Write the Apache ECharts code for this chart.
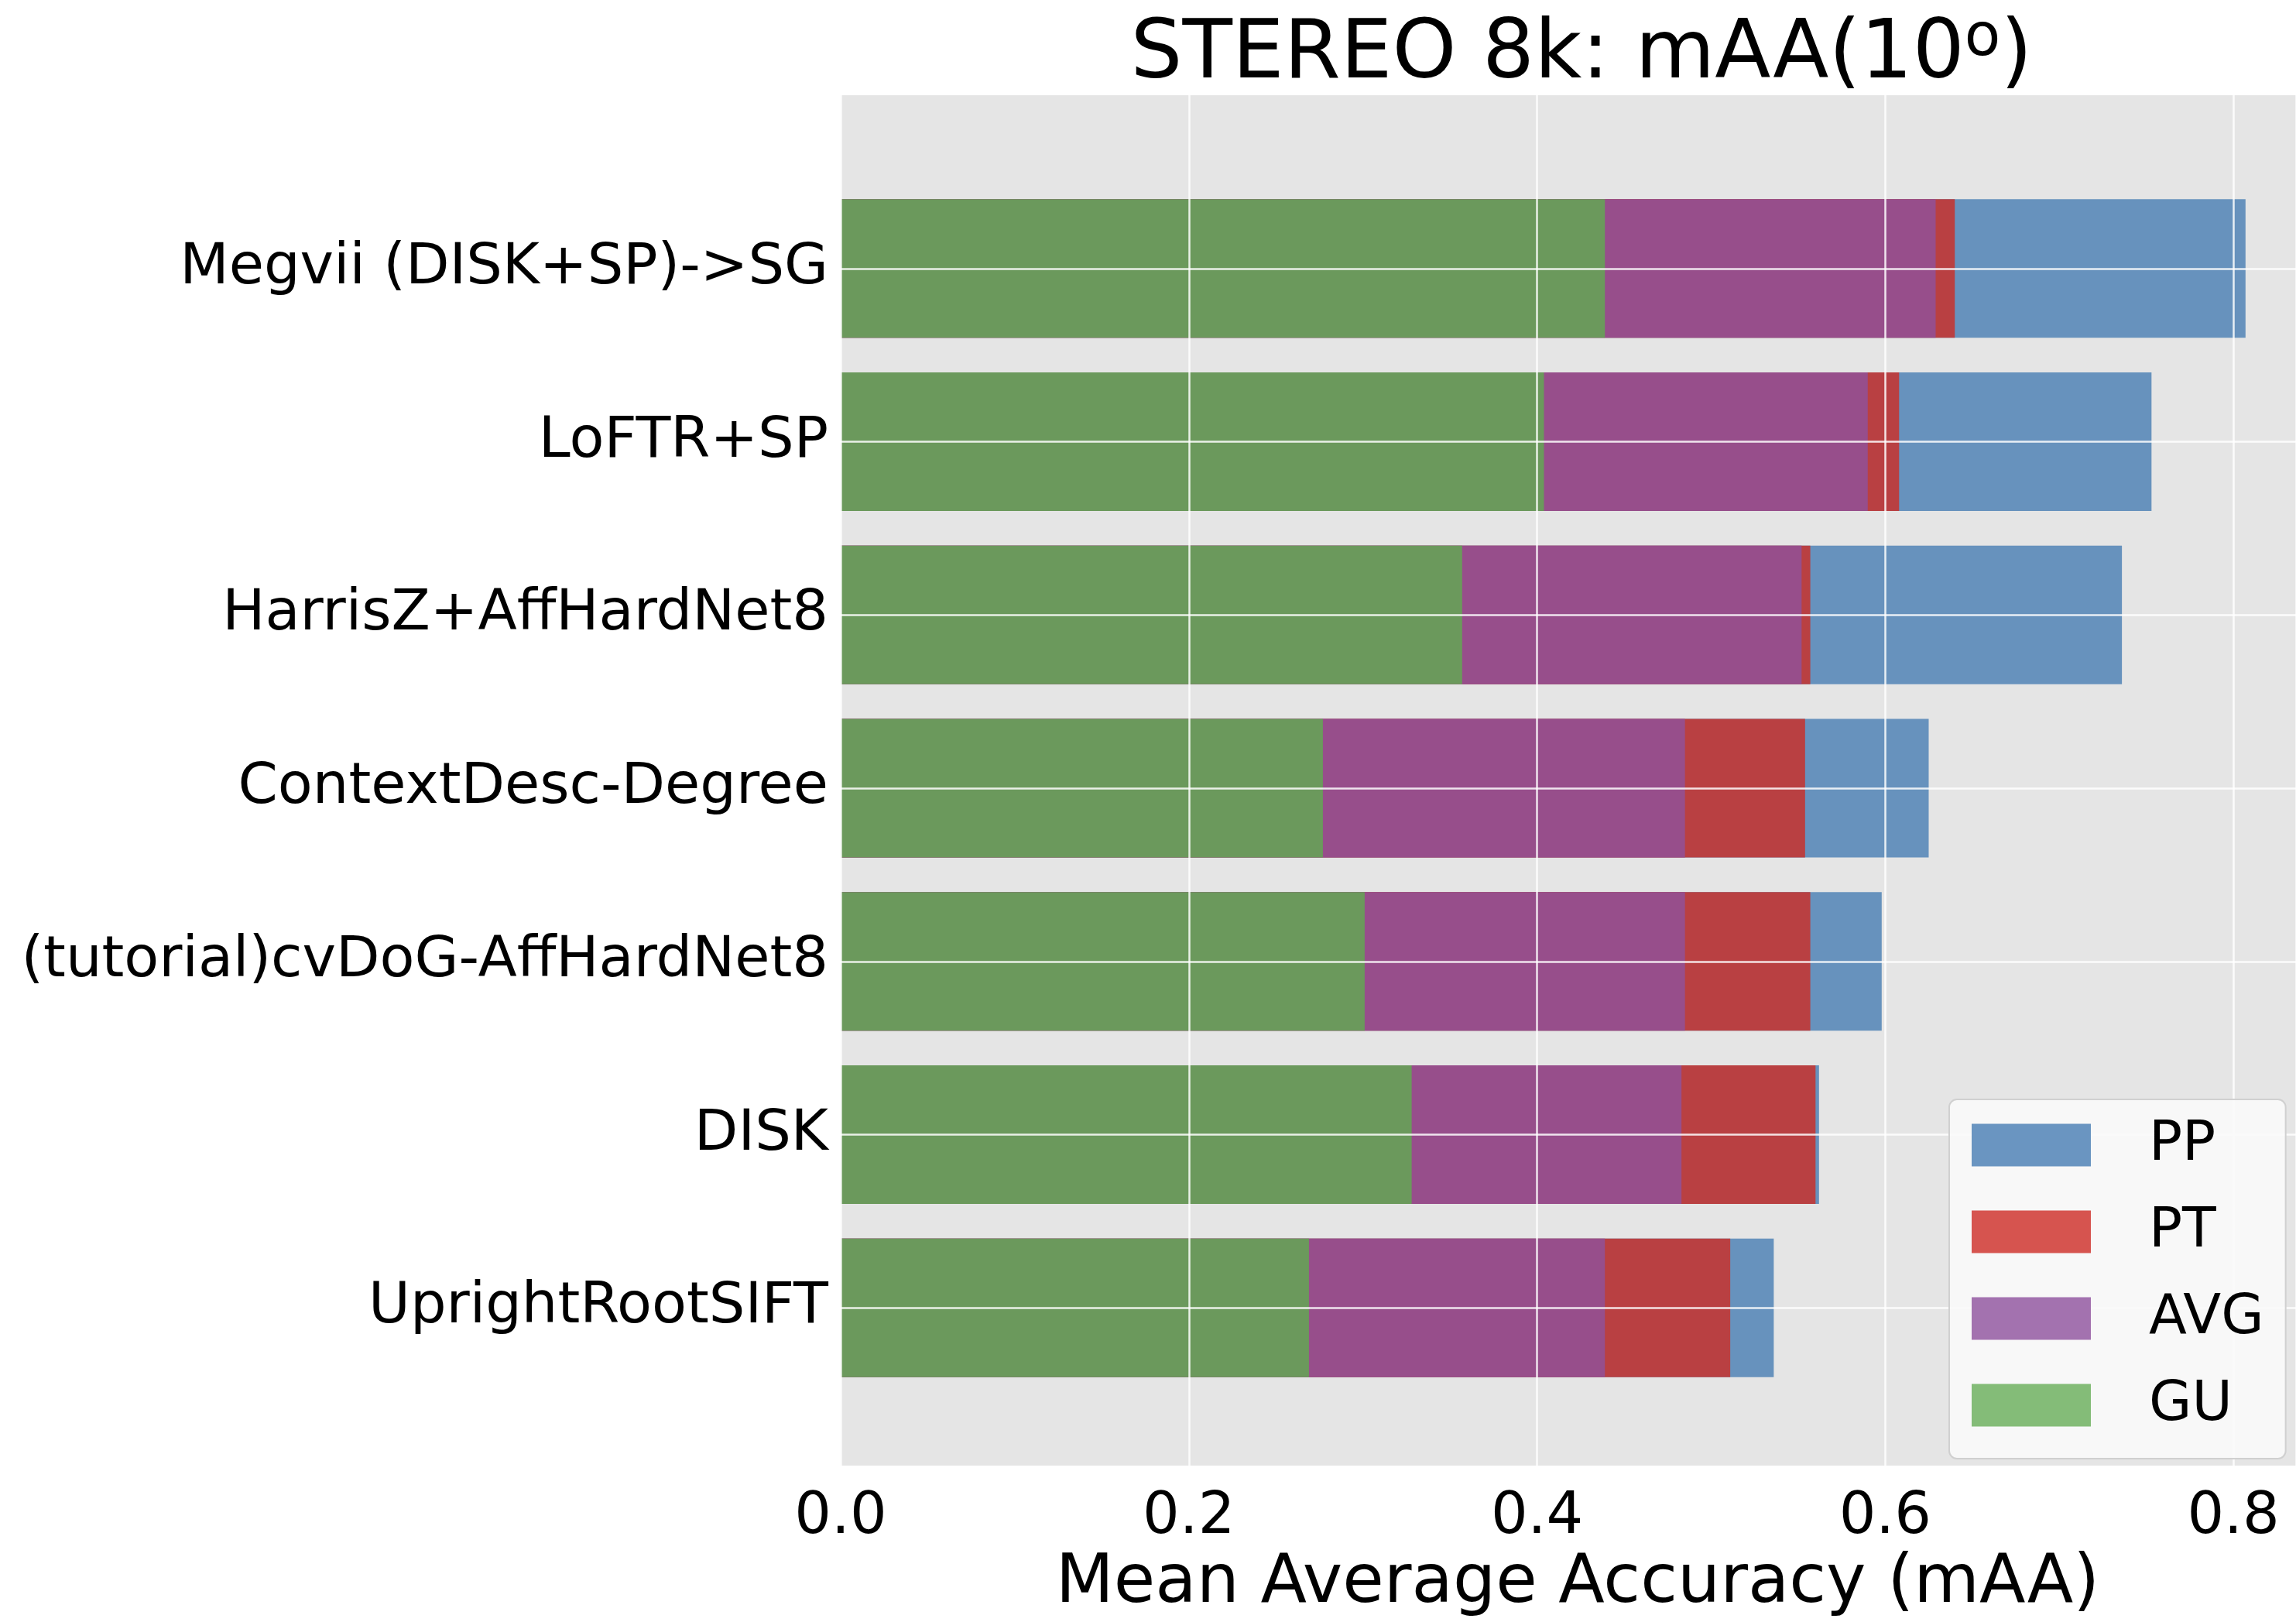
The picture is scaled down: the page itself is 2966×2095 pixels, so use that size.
<!DOCTYPE html>
<html>
<head>
<meta charset="utf-8">
<title>STEREO 8k: mAA(10°)</title>
<script src="https://cdn.jsdelivr.net/npm/echarts@6/dist/echarts.min.js"></script>
<style>
  html, body { margin: 0; padding: 0; background: #ffffff; }
  #chart { width: 2966px; height: 2095px; }
</style>
</head>
<body>
<div id="chart"></div>
<script>
// Methods, listed from top to bottom of the chart
const methods = [
  'Megvii (DISK+SP)->SG',
  'LoFTR+SP',
  'HarrisZ+AffHardNet8',
  'ContextDesc-Degree',
  '(tutorial)cvDoG-AffHardNet8',
  'DISK',
  'UprightRootSIFT'
];

// mAA(10°) per dataset split, same order as methods
const seriesNames = ['PP', 'PT', 'AVG', 'GU'];
const valuesPP  = [0.807, 0.753, 0.736, 0.625, 0.598, 0.562, 0.536];
const valuesPT  = [0.640, 0.608, 0.557, 0.554, 0.557, 0.560, 0.511];
const valuesAVG = [0.629, 0.590, 0.552, 0.485, 0.485, 0.483, 0.439];
const valuesGU  = [0.439, 0.404, 0.357, 0.277, 0.301, 0.328, 0.269];

const xTicks = [0, 0.2, 0.4, 0.6, 0.8];

const FONT = 'DejaVu Sans';
const barColors   = { PP: '#6792BD', PT: '#B94042', AVG: '#974E8B', GU: '#6B995C' };
const legendColors = { PP: '#6A95C1', PT: '#D6544F', AVG: '#A372AF', GU: '#84BC78' };

const X_MAX = 0.836;
const PLOT_LEFT = 1086;
const PLOT_TOP = 123;
const PLOT_H = 1790;          // y range -1 .. 7
const UNIT = PLOT_H / 8;      // one category step
const gridLine = { color: '#ffffff', width: 2.5, opacity: 0.85 };

const chart = echarts.init(document.getElementById('chart'), null, { renderer: 'canvas' });

const dataBySeries = { PP: valuesPP, PT: valuesPT, AVG: valuesAVG, GU: valuesGU };

const option = {
  backgroundColor: '#ffffff',
  animation: false,
  title: {
    text: '{t|STEREO 8k: mAA(10}{s|o}{t|)}',
    left: 2038,
    top: 8,
    textAlign: 'center',
    textStyle: {
      fontWeight: 'normal',
      rich: {
        t: { fontFamily: FONT, fontSize: 105.5, fontWeight: 'normal', color: '#000000', lineHeight: 120 },
        s: { fontFamily: FONT, fontSize: 76, fontWeight: 'normal', color: '#000000', verticalAlign: 'top', lineHeight: 66 }
      }
    }
  },
  legend: {
    orient: 'vertical',
    left: 2518,
    top: 1420,
    z: 20,
    data: seriesNames.map(n => ({ name: n, itemStyle: { color: legendColors[n] } })),
    icon: 'rect',
    itemWidth: 154,
    itemHeight: 55,
    itemGap: 40,
    padding: [23, 28, 33, 29],
    backgroundColor: 'rgba(250,250,250,0.92)',
    borderColor: '#D0D0D0',
    borderWidth: 2,
    borderRadius: 10,
    textStyle: {
      fontFamily: FONT,
      fontSize: 71.5,
      color: '#000000',
      padding: [0, 0, 0, 70]
    }
  },
  grid: [
    // plot panel: grey background, vertical grid lines, x ticks
    { left: PLOT_LEFT, right: 0, top: PLOT_TOP, height: PLOT_H, show: true,
      backgroundColor: '#E5E5E5', borderWidth: 0, containLabel: false },
    // bars: seven category bands between y = -0.5 and 6.5
    { left: PLOT_LEFT, right: 0, top: PLOT_TOP + UNIT * 0.5, height: UNIT * 7, containLabel: false },
    // horizontal grid lines through each category centre
    { left: PLOT_LEFT, right: 0, top: PLOT_TOP + UNIT, height: UNIT * 6, containLabel: false }
  ],
  xAxis: [
    {
      gridIndex: 0, type: 'value', min: 0, max: X_MAX, interval: 0.2, z: 10,
      name: 'Mean Average Accuracy (mAA)',
      nameLocation: 'middle',
      nameGap: 108,
      nameTextStyle: { fontFamily: FONT, fontSize: 87, color: '#000000', padding: [0, 0, 0, 24] },
      axisLine: { show: false },
      axisTick: { show: false },
      axisLabel: {
        fontFamily: FONT, fontSize: 75, color: '#000000', margin: 30,
        showMaxLabel: false,
        formatter: v => (xTicks.some(t => Math.abs(t - v) < 1e-9) ? v.toFixed(1) : '')
      },
      splitLine: { show: true, lineStyle: gridLine }
    },
    { gridIndex: 1, type: 'value', min: 0, max: X_MAX, show: false },
    { gridIndex: 2, type: 'value', min: 0, max: X_MAX, show: false }
  ],
  yAxis: [
    { gridIndex: 0, type: 'value', min: -1, max: 7, show: false },
    {
      gridIndex: 1, type: 'category', data: methods, inverse: true,
      axisLine: { show: false },
      axisTick: { show: false },
      splitLine: { show: false },
      axisLabel: { fontFamily: FONT, fontSize: 73.5, color: '#000000', margin: 16, padding: [18, 0, 0, 0] }
    },
    {
      gridIndex: 2, type: 'value', min: 0, max: 6, interval: 1, z: 10,
      axisLine: { show: false },
      axisTick: { show: false },
      axisLabel: { show: false },
      splitLine: { show: true, lineStyle: gridLine }
    }
  ],
  // bars share one band and overlap from zero; later series sit on top
  series: seriesNames.map(n => ({
    name: n,
    type: 'bar',
    xAxisIndex: 1,
    yAxisIndex: 1,
    barWidth: '80%',
    barGap: '-100%',
    data: dataBySeries[n],
    itemStyle: { color: barColors[n] },
    emphasis: { disabled: true }
  }))
};

chart.setOption(option);
</script>
</body>
</html>
